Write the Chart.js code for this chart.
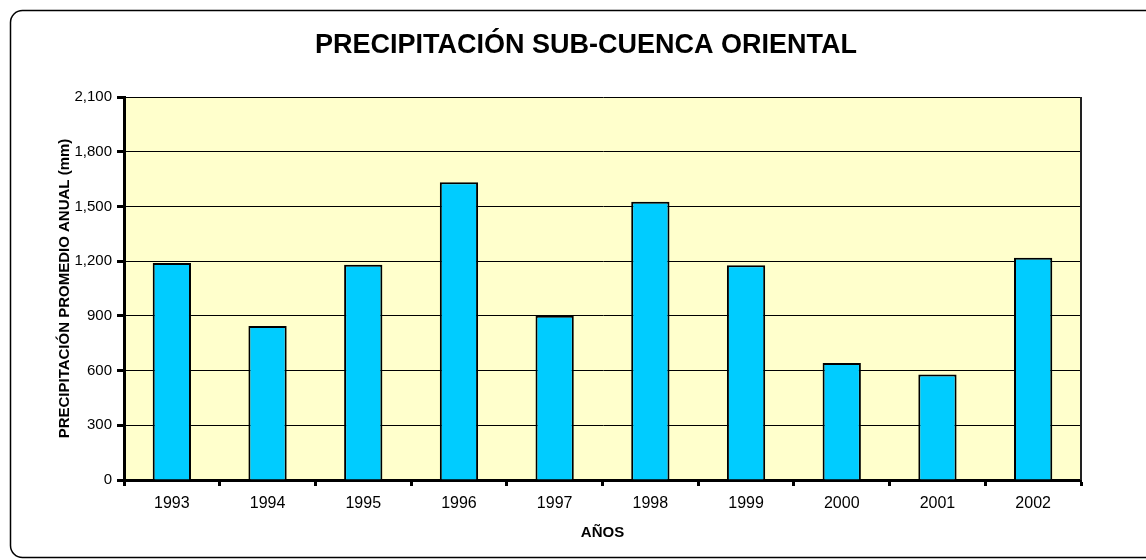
<!DOCTYPE html>
<html>
<head>
<meta charset="utf-8">
<script src="https://cdn.jsdelivr.net/npm/chart.js@4"></script>
<style>
  body { margin: 0; background: #fff; }
  #caja { width: 1146px; height: 560px; position: relative; }
</style>
</head>
<body>
<div id="caja"><canvas id="grafico"></canvas></div>
<script>
// Datos
const anios = ["1993", "1994", "1995", "1996", "1997", "1998", "1999", "2000", "2001", "2002"];
const precipitacion = [1190, 845, 1180, 1632, 900, 1526, 1177, 641, 578, 1219];
const tituloGrafico = "PRECIPITACIÓN SUB-CUENCA ORIENTAL";
const tituloEjeY = "PRECIPITACIÓN PROMEDIO ANUAL (mm)";
const tituloEjeX = "AÑOS";

const fuente = "Arial, 'Liberation Sans', sans-serif";

// Marco redondeado, fondo del área de trazado y título
const marcoPlugin = {
    id: 'marco',
    beforeDraw(chart) {
        const ctx = chart.ctx;
        const a = chart.chartArea;
        ctx.save();
        ctx.fillStyle = '#fff';
        ctx.fillRect(0, 0, chart.width, chart.height);
        ctx.beginPath();
        ctx.roundRect(10.5, 10.5, 1160, 547, 12);
        ctx.lineWidth = 1.5;
        ctx.strokeStyle = '#000';
        ctx.stroke();
        ctx.fillStyle = '#FFFFCC';
        ctx.fillRect(a.left, a.top, a.right - a.left, a.bottom - a.top);
        ctx.fillStyle = '#000';
        ctx.font = "bold 27px " + fuente;
        ctx.textAlign = 'center';
        ctx.textBaseline = 'middle';
        ctx.fillText(tituloGrafico, 586, 46);
        ctx.restore();
    },
    afterDatasetsDraw(chart) {
        const ctx = chart.ctx;
        const a = chart.chartArea;
        ctx.save();
        ctx.strokeStyle = '#222';
        ctx.lineWidth = 2;
        ctx.beginPath();
        ctx.moveTo(a.right, a.top);
        ctx.lineTo(a.right, a.bottom);
        ctx.stroke();
        ctx.restore();
    }
};

const ctx = document.getElementById('grafico').getContext('2d');
new Chart(ctx, {
    type: 'bar',
    data: {
        labels: anios,
        datasets: [{
            data: precipitacion,
            backgroundColor: '#00CCFF',
            borderColor: '#000',
            borderWidth: 2,
            barPercentage: 0.4,
            categoryPercentage: 1
        }]
    },
    options: {
        responsive: true,
        maintainAspectRatio: false,
        animation: false,
        layout: { padding: { top: 97, left: 0, right: 65, bottom: 0 } },
        plugins: {
            legend: { display: false },
            tooltip: { enabled: false }
        },
        scales: {
            x: {
                offset: true,
                afterFit: (s) => { s.height = 80; },
                grid: {
                    offset: true,
                    drawOnChartArea: false,
                    drawTicks: true,
                    tickLength: 6,
                    tickWidth: 3,
                    tickColor: '#000'
                },
                border: { display: true, color: '#000', width: 3 },
                ticks: { color: '#000', padding: 8, font: { family: fuente, size: 16 } },
                title: {
                    display: true,
                    text: tituloEjeX,
                    color: '#000',
                    padding: { top: 0, bottom: 18 },
                    font: { family: fuente, size: 15, weight: 'bold' }
                }
            },
            y: {
                min: 0,
                max: 2100,
                afterFit: (s) => { s.width = 124; },
                grid: {
                    color: '#000',
                    lineWidth: 1,
                    drawTicks: true,
                    tickLength: 7,
                    tickWidth: 3,
                    tickColor: '#000'
                },
                border: { display: true, color: '#000', width: 3 },
                ticks: {
                    stepSize: 300,
                    color: '#000',
                    padding: 5,
                    font: { family: fuente, size: 15 },
                    callback: (v) => v.toLocaleString('en-US')
                },
                title: {
                    display: true,
                    text: tituloEjeY,
                    color: '#000',
                    padding: { top: 56, bottom: 0 },
                    font: { family: fuente, size: 15, weight: 'bold' }
                }
            }
        }
    },
    plugins: [marcoPlugin]
});
</script>
</body>
</html>
